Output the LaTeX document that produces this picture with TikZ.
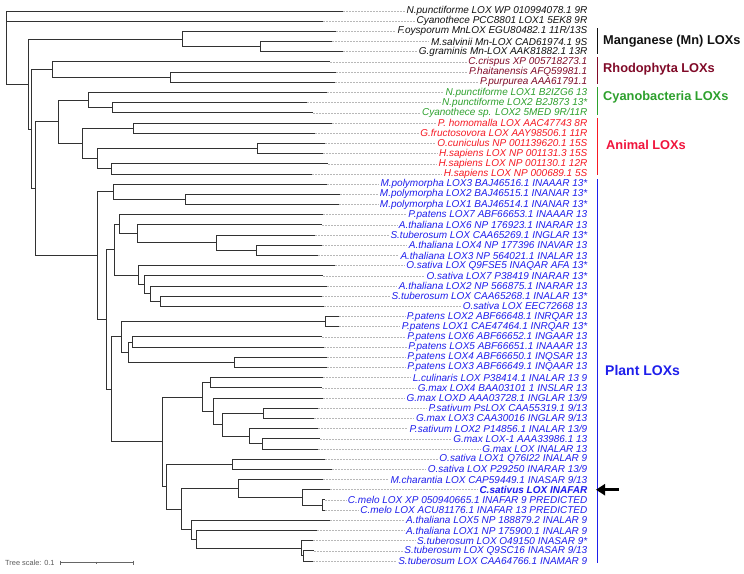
\documentclass[tikz,border=0pt]{standalone}
\usepackage{fontspec}
\setmainfont{Liberation Sans}
\usetikzlibrary{arrows.meta}
\definecolor{mncol}{RGB}{17,17,17}
\definecolor{rhocol}{RGB}{128,10,40}
\definecolor{cyacol}{RGB}{45,160,45}
\definecolor{anicol}{RGB}{245,25,35}
\definecolor{anigrp}{RGB}{240,20,60}
\definecolor{placol}{RGB}{30,30,235}
\definecolor{brcol}{RGB}{50,50,50}
\newcommand\leaf[4]{%
  \coordinate (l#1) at (#2, {11+10.185*(#1-1)});
  \node[lab, text=#3] (t#1) at (589, {11+10.185*(#1-1)}) {#4};
  \draw[leafdash] (l#1) -- (t#1.west);
}
\newcommand\clade[3]{%
  \draw[br] (#1) |- (#2);
  \draw[br] (#1) |- (#3);
}
\begin{document}
\begin{tikzpicture}[x=1pt,y=-1pt,
  lab/.style={anchor=east, inner sep=0pt, inner xsep=1.5pt, font=\fontsize{10}{10}\selectfont\itshape},
  leafdash/.style={draw=black!28, line width=0.5pt, dash pattern=on 1.6pt off 1.4pt},
  br/.style={draw=brcol, line width=0.9pt},
  grp/.style={anchor=west, inner sep=0pt, font=\fontsize{12.8}{13}\selectfont\bfseries},
  gbar/.style={line width=1pt}]
\useasboundingbox (0,0) rectangle (744,573);
% leaves
\leaf{1}{343}{mncol}{N.punctiforme LOX WP 010994078.1 9R}
\leaf{2}{323}{mncol}{Cyanothece PCC8801 LOX1 5EK8 9R}
\leaf{3}{336}{mncol}{F.oysporum MnLOX EGU80482.1 11R/13S}
\leaf{4}{332}{mncol}{M.salvinii Mn-LOX CAD61974.1 9S}
\leaf{5}{343}{mncol}{G.graminis Mn-LOX AAK81882.1 13R}
\leaf{6}{330}{rhocol}{C.crispus XP 005718273.1}
\leaf{7}{336}{rhocol}{P.haitanensis AFQ59981.1}
\leaf{8}{335}{rhocol}{P.purpurea AAA61791.1}
\leaf{9}{327}{cyacol}{N.punctiforme LOX1 B2IZG6 13}
\leaf{10}{307}{cyacol}{N.punctiforme LOX2 B2J873 13*}
\leaf{11}{313}{cyacol}{Cyanothece sp. LOX2 5MED 9R/11R}
\leaf{12}{332}{anicol}{P. homomalla LOX AAC47743 8R}
\leaf{13}{315}{anicol}{G.fructosovora LOX AAY98506.1 11R}
\leaf{14}{325}{anicol}{O.cuniculus NP 001139620.1 15S}
\leaf{15}{323}{anicol}{H.sapiens LOX NP 001131.3 15S}
\leaf{16}{328}{anicol}{H.sapiens LOX NP 001130.1 12R}
\leaf{17}{312}{anicol}{H.sapiens LOX NP 000689.1 5S}
\leaf{18}{327}{placol}{M.polymorpha LOX3 BAJ46516.1 INAAAR 13*}
\leaf{19}{340}{placol}{M.polymorpha LOX2 BAJ46515.1 INANAR 13*}
\leaf{20}{339}{placol}{M.polymorpha LOX1 BAJ46514.1 INANAR 13*}
\leaf{21}{323}{placol}{P.patens LOX7 ABF66653.1 INAAAR 13}
\leaf{22}{322}{placol}{A.thaliana LOX6 NP 176923.1 INARAR 13}
\leaf{23}{315}{placol}{S.tuberosum LOX CAA65269.1 INGLAR 13*}
\leaf{24}{322}{placol}{A.thaliana LOX4 NP 177396 INAVAR 13}
\leaf{25}{318}{placol}{A.thaliana LOX3 NP 564021.1 INALAR 13}
\leaf{26}{335}{placol}{O.sativa LOX Q9FSE5 INAQAR AFA 13*}
\leaf{27}{323}{placol}{O.sativa LOX7 P38419 INARAR 13*}
\leaf{28}{327}{placol}{A.thaliana LOX2 NP 566875.1 INARAR 13}
\leaf{29}{322}{placol}{S.tuberosum LOX CAA65268.1 INALAR 13*}
\leaf{30}{324}{placol}{O.sativa LOX EEC72668 13}
\leaf{31}{339}{placol}{P.patens LOX2 ABF66648.1 INRQAR 13}
\leaf{32}{339}{placol}{P.patens LOX1 CAE47464.1 INRQAR 13*}
\leaf{33}{322}{placol}{P.patens LOX6 ABF66652.1 INGAAR 13}
\leaf{34}{324}{placol}{P.patens LOX5 ABF66651.1 INAAAR 13}
\leaf{35}{327}{placol}{P.patens LOX4 ABF66650.1 INQSAR 13}
\leaf{36}{327}{placol}{P.patens LOX3 ABF66649.1 INQAAR 13}
\leaf{37}{323}{placol}{L.culinaris LOX P38414.1 INALAR 13 9}
\leaf{38}{322}{placol}{G.max LOX4 BAA03101 1 INSLAR 13}
\leaf{39}{323}{placol}{G.max LOXD AAA03728.1 INGLAR 13/9}
\leaf{40}{318}{placol}{P.sativum PsLOX CAA55319.1 9/13}
\leaf{41}{314}{placol}{G.max LOX3 CAA30016 INGLAR 9/13}
\leaf{42}{318}{placol}{P.sativum LOX2 P14856.1 INALAR 13/9}
\leaf{43}{320}{placol}{G.max LOX-1 AAA33986.1 13}
\leaf{44}{318}{placol}{G.max LOX INALAR 13}
\leaf{45}{325}{placol}{O.sativa LOX1 Q76I22 INALAR 9}
\leaf{46}{332}{placol}{O.sativa LOX P29250 INARAR 13/9}
\leaf{47}{323}{placol}{M.charantia LOX CAP59449.1 INASAR 9/13}
\leaf{48}{330}{placol}{\bfseries C.sativus LOX INAFAR}
\leaf{49}{325}{placol}{C.melo LOX XP 050940665.1 INAFAR 9 PREDICTED}
\leaf{50}{325}{placol}{C.melo LOX ACU81176.1 INAFAR 13 PREDICTED}
\leaf{51}{330}{placol}{A.thaliana LOX5 NP 188879.2 INALAR 9}
\leaf{52}{317}{placol}{A.thaliana LOX1 NP 175900.1 INALAR 9}
\leaf{53}{313}{placol}{S.tuberosum LOX O49150 INASAR 9*}
\leaf{54}{314}{placol}{S.tuberosum LOX Q9SC16 INASAR 9/13}
\leaf{55}{313}{placol}{S.tuberosum LOX CAA64766.1 INAMAR 9}
% internal nodes
\coordinate (root) at (6,47.5);
\coordinate (n28) at (28,84.05);
\coordinate (nMn) at (182,39.0);
\coordinate (n45) at (260,46.65);
\coordinate (n31) at (31,129.1);
\coordinate (nRho) at (52,69.55);
\coordinate (n78) at (170,77.2);
\coordinate (n35) at (35,188.7);
\coordinate (nCA) at (58,121.8);
\coordinate (nCy) at (88,100.15);
\coordinate (n1011) at (112,107.8);
\coordinate (nAn) at (82,143.4);
\coordinate (n1213) at (133,128.1);
\coordinate (n1417) at (97,158.7);
\coordinate (n1415) at (257,148.5);
\coordinate (n1617) at (111,168.9);
\coordinate (nPl) at (97,255.65);
\coordinate (nMp) at (113,191.75);
\coordinate (n1920) at (185,199.4);
\coordinate (nA) at (106,319.55);
\coordinate (nB) at (114,249.7);
\coordinate (n2125) at (119,224.25);
\coordinate (n2225) at (137,233.8);
\coordinate (n2325) at (216,242.7);
\coordinate (n2425) at (256,250.35);
\coordinate (n2630) at (138,275.2);
\coordinate (n2730) at (144,284.7);
\coordinate (n2830) at (150,293.65);
\coordinate (n2930) at (160,301.3);
\coordinate (nC) at (111,389.4);
\coordinate (n3136) at (121,336.9);
\coordinate (n3132) at (325,321.65);
\coordinate (n3336) at (128,352.2);
\coordinate (n3334) at (132,342.0);
\coordinate (n3536) at (234,362.4);
\coordinate (n3755) at (162,441.9);
\coordinate (n3744) at (202,397.1);
\coordinate (n3738) at (210,382.75);
\coordinate (n3944) at (213,411.4);
\coordinate (n4044) at (222,424.8);
\coordinate (n4041) at (263,413.3);
\coordinate (n4244) at (249,436.25);
\coordinate (n4344) at (262,443.9);
\coordinate (n4555) at (166,486.65);
\coordinate (n4546) at (232,464.2);
\coordinate (n4755) at (181,509.1);
\coordinate (n4750) at (238,488.4);
\coordinate (n4850) at (302,497.35);
\coordinate (n4950) at (322,505.0);
\coordinate (n5155) at (191,529.8);
\coordinate (n5255) at (196,539.3);
\coordinate (n5355) at (301,548.25);
\coordinate (n5455) at (303,555.9);
% branches
\draw[br] (root) |- (l1);
\clade{root}{l2}{n28}
\clade{n28}{nMn}{n31}
\clade{nMn}{l3}{n45}
\clade{n45}{l4}{l5}
\clade{n31}{nRho}{n35}
\clade{nRho}{l6}{n78}
\clade{n78}{l7}{l8}
\clade{n35}{nCA}{nPl}
\clade{nCA}{nCy}{nAn}
\clade{nCy}{l9}{n1011}
\clade{n1011}{l10}{l11}
\clade{nAn}{n1213}{n1417}
\clade{n1213}{l12}{l13}
\clade{n1417}{n1415}{n1617}
\clade{n1415}{l14}{l15}
\clade{n1617}{l16}{l17}
\clade{nPl}{nMp}{nA}
\clade{nMp}{l18}{n1920}
\clade{n1920}{l19}{l20}
\clade{nA}{nB}{nC}
\clade{nB}{n2125}{n2630}
\clade{n2125}{l21}{n2225}
\clade{n2225}{l22}{n2325}
\clade{n2325}{l23}{n2425}
\clade{n2425}{l24}{l25}
\clade{n2630}{l26}{n2730}
\clade{n2730}{l27}{n2830}
\clade{n2830}{l28}{n2930}
\clade{n2930}{l29}{l30}
\clade{nC}{n3136}{n3755}
\clade{n3136}{n3132}{n3336}
\clade{n3132}{l31}{l32}
\clade{n3336}{n3334}{n3536}
\clade{n3334}{l33}{l34}
\clade{n3536}{l35}{l36}
\clade{n3755}{n3744}{n4555}
\clade{n3744}{n3738}{n3944}
\clade{n3738}{l37}{l38}
\clade{n3944}{l39}{n4044}
\clade{n4044}{n4041}{n4244}
\clade{n4041}{l40}{l41}
\clade{n4244}{l42}{n4344}
\clade{n4344}{l43}{l44}
\clade{n4555}{n4546}{n4755}
\clade{n4546}{l45}{l46}
\clade{n4755}{n4750}{n5155}
\clade{n4750}{l47}{n4850}
\clade{n4850}{l48}{n4950}
\clade{n4950}{l49}{l50}
\clade{n5155}{l51}{n5255}
\clade{n5255}{l52}{n5355}
\clade{n5355}{l53}{n5455}
\clade{n5455}{l54}{l55}
% group bars and labels
\draw[gbar, mncol] (597,28) -- (597,54);
\draw[gbar, rhocol] (597,57) -- (597,84);
\draw[gbar, cyacol] (597,87) -- (597,115);
\draw[gbar, anicol] (597,118) -- (597,175);
\draw[gbar, placol] (597,179) -- (597,563);
\node[grp, text=mncol] (gMn) at (603,41.6) {Manganese (Mn) LOXs};
\node[grp, text=rhocol] (gRho) at (603,69.5) {Rhodophyta LOXs};
\node[grp, text=cyacol] (gCy) at (603,97.5) {Cyanobacteria LOXs};
\node[grp, text=anigrp] (gAn) at (606,145) {Animal LOXs};
\node[grp, text=placol, font=\fontsize{14}{14}\selectfont\bfseries] (gPl) at (605,370) {Plant LOXs};
% arrow to C. sativus
\coordinate (arrS) at (619,489.7);
\coordinate (arrE) at (596,489.7);
\draw[line width=3.5pt, -{Triangle[width=11pt,length=9pt]}] (arrS) -- (arrE);
% tree scale
\node[anchor=west, inner sep=0pt, text=black!65, font=\fontsize{7.4}{8}\selectfont] (ts) at (5,562.5) {Tree scale: 0.1};
\coordinate (sb1) at (60,562.5);
\coordinate (sb2) at (133,562.5);
\draw[black!60, line width=0.6pt] (sb1) -- (sb2);
\draw[black!60, line width=0.6pt] (60,560.5) -- (60,564.5) (133,560.5) -- (133,564.5) (96.5,561.5) -- (96.5,563.5);
\end{tikzpicture}
\end{document}
